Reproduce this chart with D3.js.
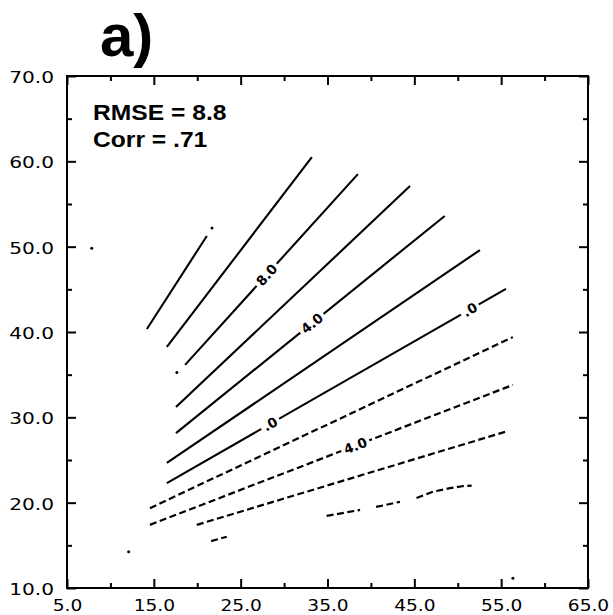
<!DOCTYPE html>
<html>
<head>
<meta charset="utf-8">
<script src="https://cdn.jsdelivr.net/npm/d3@7"></script>
<style>
  html, body { margin: 0; padding: 0; background: #fff; }
  svg { display: block; }
</style>
</head>
<body>
<script>
// Axis ticks
const xMajor = [5, 15, 25, 35, 45, 55, 65];
const xMinor = [10, 20, 30, 40, 50, 60];
const yMajor = [10, 20, 30, 40, 50, 60, 70];
const yMinor = [15, 25, 35, 45, 55, 65];

// Panel annotation
const panelTag = "a)";
const statLines = ["RMSE = 8.8", "Corr = .71"];

// Contour polylines, [x, y] in axis units, one array per level
const line12  = [[14.2, 40.35], [21.1, 51.25]];
const line10  = [[16.5, 38.25], [33.2, 60.5]];
const line8   = [[18.6, 36.15], [38.5, 58.5]];
const line6   = [[17.55, 31.2], [44.5, 57.1]];
const line4   = [[17.55, 28.15], [48.5, 53.6]];
const line2   = [[16.5, 24.65], [52.55, 49.6]];
const line0   = [[16.5, 22.3], [55.55, 45.05]];
const lineM2  = [[14.55, 19.35], [56.35, 39.4]];
const lineM4  = [[14.55, 17.4], [56.35, 33.8]];
const lineM6  = [[19.95, 17.4], [55.45, 28.3]];
const lineM8a = [[21.6, 15.5], [23.4, 16.0]];
const lineM8b = [[34.9, 18.45], [38.75, 19.15]];
const lineM8c = [[40.6, 19.5], [43.35, 20.1]];
const lineM8d = [[45.25, 20.55], [47.2, 21.3], [49.1, 21.7], [50.65, 21.95], [51.6, 22.0]];

// Isolated tiny contour fragments
const specks = [[7.85, 49.8], [12.1, 14.25], [56.35, 11.15], [17.65, 35.25], [21.7, 52.2]];

const positiveLines = [line12, line10, line8, line6, line4, line2, line0];
const negativeLines = [lineM2, lineM4, lineM6, lineM8a, lineM8b, lineM8c, lineM8d];

// In-line contour labels: host line, x position (axis units), text
const contourLabels = [
  { line: line8,  x: 28.0,  text: "8.0" },
  { line: line4,  x: 33.2,  text: "4.0" },
  { line: line0,  x: 28.4,  text: ".0" },
  { line: line0,  x: 51.4,  text: ".0" },
  { line: lineM4, x: 38.2,  text: "4.0" }
];

const W = 613, H = 615;
const x = d3.scaleLinear().domain([5, 65]).range([67, 588]);
const y = d3.scaleLinear().domain([10, 70]).range([588, 76]);

const svg = d3.select("body").append("svg")
  .attr("width", W).attr("height", H)
  .attr("viewBox", `0 0 ${W} ${H}`);

const fmt = d3.format(".1f");
const tickFont = "'DejaVu Sans', sans-serif";

function styleAxis(g, withText) {
  g.select(".domain").remove();
  g.selectAll(".tick line").attr("stroke", "#000").attr("stroke-width", 2);
  if (withText) {
    g.selectAll(".tick text")
      .attr("fill", "#000")
      .attr("font-family", tickFont)
      .attr("font-size", 15.5);
  } else {
    g.selectAll(".tick text").remove();
  }
}

// Bottom axis
const gB = svg.append("g").attr("transform", `translate(0,${y(10)})`);
gB.call(d3.axisBottom(x).tickValues(xMajor).tickSize(-9).tickPadding(12).tickFormat(fmt));
styleAxis(gB, true);
gB.selectAll(".tick text").attr("transform", "scale(1.2,1)");
const gBm = svg.append("g").attr("transform", `translate(0,${y(10)})`);
gBm.call(d3.axisBottom(x).tickValues(xMinor).tickSize(-5).tickFormat(""));
styleAxis(gBm, false);

// Top axis
const gT = svg.append("g").attr("transform", `translate(0,${y(70)})`);
gT.call(d3.axisTop(x).tickValues(xMajor).tickSize(-9).tickFormat(""));
styleAxis(gT, false);
const gTm = svg.append("g").attr("transform", `translate(0,${y(70)})`);
gTm.call(d3.axisTop(x).tickValues(xMinor).tickSize(-5).tickFormat(""));
styleAxis(gTm, false);

// Left axis
const gL = svg.append("g").attr("transform", `translate(${x(5)},0)`);
gL.call(d3.axisLeft(y).tickValues(yMajor).tickSize(-9).tickPadding(10).tickFormat(fmt));
styleAxis(gL, true);
gL.selectAll(".tick text").attr("dy", "0.42em").attr("transform", "scale(1.3,1)");
const gLm = svg.append("g").attr("transform", `translate(${x(5)},0)`);
gLm.call(d3.axisLeft(y).tickValues(yMinor).tickSize(-5).tickFormat(""));
styleAxis(gLm, false);

// Right axis
const gR = svg.append("g").attr("transform", `translate(${x(65)},0)`);
gR.call(d3.axisRight(y).tickValues(yMajor).tickSize(-9).tickFormat(""));
styleAxis(gR, false);
const gRm = svg.append("g").attr("transform", `translate(${x(65)},0)`);
gRm.call(d3.axisRight(y).tickValues(yMinor).tickSize(-5).tickFormat(""));
styleAxis(gRm, false);

// Plot frame
svg.append("rect")
  .attr("x", x(5)).attr("y", y(70))
  .attr("width", x(65) - x(5)).attr("height", y(10) - y(70))
  .attr("fill", "none").attr("stroke", "#000").attr("stroke-width", 2);

// Contours
const lineGen = d3.line().x(d => x(d[0])).y(d => y(d[1]));
const cg = svg.append("g").attr("fill", "none").attr("stroke", "#000")
  .attr("stroke-linecap", "butt");

cg.selectAll("path.pos").data(positiveLines).join("path")
  .attr("class", "pos")
  .attr("d", lineGen)
  .attr("stroke-width", 2.1);

cg.selectAll("path.neg").data(negativeLines).join("path")
  .attr("class", "neg")
  .attr("d", lineGen)
  .attr("stroke-width", 2.2)
  .attr("stroke-dasharray", "7,3.5");

svg.append("g").selectAll("circle").data(specks).join("circle")
  .attr("cx", d => x(d[0])).attr("cy", d => y(d[1]))
  .attr("r", 1.5).attr("fill", "#000");

// Contour labels, set into a gap in their line and rotated along it
function pointOnLine(pts, xv) {
  for (let i = 0; i < pts.length - 1; i++) {
    const a = pts[i], b = pts[i + 1];
    if (xv >= a[0] && xv <= b[0]) {
      const t = (xv - a[0]) / (b[0] - a[0]);
      return { y: a[1] + t * (b[1] - a[1]), a, b };
    }
  }
  const a = pts[0], b = pts[pts.length - 1];
  return { y: a[1] + (xv - a[0]) / (b[0] - a[0]) * (b[1] - a[1]), a, b };
}

const lg = svg.append("g");
contourLabels.forEach(l => {
  const p = pointOnLine(l.line, l.x);
  const px = x(l.x), py = y(p.y);
  const ang = Math.atan2(y(p.b[1]) - y(p.a[1]), x(p.b[0]) - x(p.a[0])) * 180 / Math.PI;
  const g = lg.append("g").attr("transform", `translate(${px},${py}) rotate(${ang})`);
  const rect = g.append("rect").attr("fill", "#fff");
  const t = g.append("text")
    .attr("text-anchor", "middle")
    .attr("dy", "0.36em")
    .attr("font-family", tickFont)
    .attr("font-size", 13.5)
    .attr("font-weight", "bold")
    .attr("fill", "#000")
    .text(l.text);
  const w = t.node().getComputedTextLength();
  rect.attr("x", -w / 2 - 3).attr("y", -6).attr("width", w + 6).attr("height", 12);
});

// Panel tag and statistics
svg.append("text")
  .attr("x", 100).attr("y", 56)
  .attr("font-family", "'Liberation Sans', Arial, sans-serif")
  .attr("font-weight", "bold")
  .attr("font-size", 60)
  .attr("fill", "#000")
  .text(panelTag);

svg.append("g").selectAll("text").data(statLines).join("text")
  .attr("transform", (d, i) => `translate(93,${120 + i * 27}) scale(1.12,1)`)
  .attr("font-family", "'Liberation Sans', Arial, sans-serif")
  .attr("font-weight", "bold")
  .attr("font-size", 22)
  .attr("fill", "#000")
  .text(d => d);
</script>
</body>
</html>
